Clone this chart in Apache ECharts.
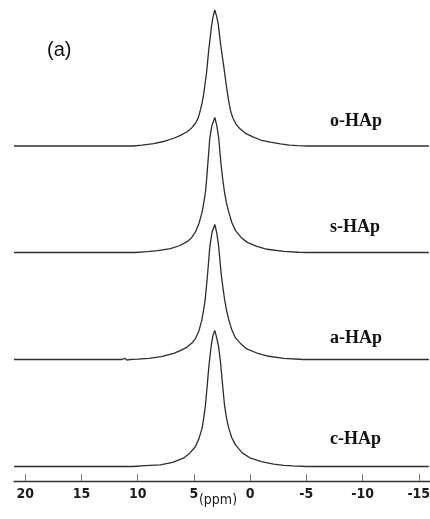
<!DOCTYPE html>
<html>
<head>
<meta charset="utf-8">
<script src="https://cdn.jsdelivr.net/npm/echarts@6/dist/echarts.min.js"></script>
<style>
html,body{margin:0;padding:0;background:#fff;}
#chart{width:430px;height:519px;}
</style>
</head>
<body>
<div id="chart"></div>
<script>
// Sample names (top to bottom)
var sampleNames = ['o-HAp', 's-HAp', 'a-HAp', 'c-HAp'];
var panelLabel = '(a)';
var axisName = '(ppm)';
var tickValues = [20, 15, 10, 5, 0, -5, -10, -15];

// Spectra: [chemical shift (ppm), relative intensity (peak = 100)]
var oHAp = [[21,0],[10.4,0],[9.6,0.6],[8.58,1.8],[7.6,3.5],[6.79,5.7],[6.2,7.8],[5.6,10.5],[5.2,13.3],[4.86,16.7],[4.62,20.5],[4.42,26.5],[4.26,32],[4.12,38.7],[4.0,46],[3.88,53.4],[3.78,62],[3.68,70.6],[3.56,79],[3.44,87.7],[3.3,95],[3.14,100],[3.0,96],[2.84,90.2],[2.74,83],[2.64,75.7],[2.49,67],[2.34,58.3],[2.22,51],[2.10,43.6],[1.93,34.5],[1.76,26.5],[1.55,21],[1.30,16.7],[0.9,12.6],[0.41,9.3],[-0.3,6.5],[-0.93,4.4],[-1.8,2.8],[-2.70,1.5],[-3.5,0.7],[-4.2,0.3],[-5.1,0],[-15.9,0]];
var sHAp = [[21,0],[10.2,0],[9.16,0.6],[8.2,1.4],[7.09,2.8],[6.3,5.0],[5.60,8.0],[5.2,11.0],[4.86,15.2],[4.55,21.5],[4.27,29.9],[4.12,37],[3.97,44.8],[3.87,54],[3.77,64.7],[3.68,74],[3.59,84.6],[3.4,94],[3.14,100],[2.96,94],[2.79,84.6],[2.69,75],[2.58,64.7],[2.43,54],[2.28,44.8],[2.10,36.5],[1.90,29.9],[1.62,22],[1.30,16.2],[0.8,11.2],[0.26,7.5],[-0.6,4.6],[-1.52,2.4],[-3.0,0.8],[-4.3,0.2],[-5.0,0],[-15.9,0]];
var aHAp = [[21,0],[11.4,0],[11.15,0.9],[10.95,-0.4],[10.7,0],[10.0,0.3],[9.0,0.9],[7.9,2.2],[6.8,4.6],[6.2,6.6],[5.6,9.2],[5.2,12.0],[4.86,15.5],[4.56,21.0],[4.3,29.0],[4.15,36.0],[4.0,44.0],[3.89,53.5],[3.78,63.5],[3.68,73.5],[3.58,84.0],[3.38,94.5],[3.14,100],[2.97,94.0],[2.80,84.0],[2.69,74.0],[2.58,64.0],[2.43,54.0],[2.28,45.0],[2.10,36.5],[1.90,29.5],[1.62,21.8],[1.30,16.0],[0.8,11.4],[0.30,7.8],[-0.6,4.8],[-1.5,2.6],[-3.0,0.9],[-4.4,0.2],[-4.7,0],[-15.9,0]];
var cHAp = [[21,0],[10.4,0],[9.3,0.6],[7.98,1.2],[6.9,3.0],[5.93,6.1],[5.4,9.5],[4.86,14.7],[4.55,20.5],[4.27,28.2],[4.12,36.0],[3.97,45.4],[3.82,59.0],[3.68,72.5],[3.56,81.5],[3.44,90.0],[3.3,96.5],[3.14,100],[2.98,95.0],[2.80,88.0],[2.64,77.4],[2.46,61.0],[2.28,45.4],[2.10,35.6],[1.90,28.2],[1.62,21.0],[1.30,15.9],[0.7,10.0],[-0.04,6.1],[-1.0,3.6],[-2.10,1.7],[-3.0,0.9],[-3.8,0.4],[-5.0,0],[-15.9,0]];

var spectra = [oHAp, sHAp, aHAp, cHAp];

// layout (pixels): top of peak and baseline of each stacked trace
var traceTop = [10, 117.5, 224.5, 330.5];
var traceBase = [146, 252.5, 359.5, 466.5];
var labelY = [123, 229, 340, 441];
var lineColor = '#2e2e2e';

var grids = [], xAxes = [], yAxes = [], series = [], graphics = [];

for (var i = 0; i < spectra.length; i++) {
  grids.push({left: 14, width: 416, top: traceTop[i], height: traceBase[i] - traceTop[i], containLabel: false, outerBoundsMode: 'none'});
  var isBottom = (i === spectra.length - 1);
  xAxes.push({
    type: 'value', gridIndex: i, min: -16, max: 21, inverse: true,
    show: isBottom,
    offset: isBottom ? 14.5 : 0,
    position: 'bottom',
    splitLine: {show: false},
    axisLine: {show: true, onZero: false, lineStyle: {color: '#333', width: 1.3}},
    axisTick: {show: true, inside: true, length: 7, customValues: tickValues, lineStyle: {color: '#777', width: 1}},
    axisLabel: {show: true, customValues: tickValues, margin: 6, color: '#1a1a1a', fontSize: 14, fontFamily: 'DejaVu Sans Condensed, DejaVu Sans', fontWeight: 'bold', hideOverlap: false},
    name: isBottom ? axisName : '',
    nameLocation: 'middle', nameGap: 12, nameMoveOverlap: false,
    nameTextStyle: {color: '#1a1a1a', fontSize: 14, fontFamily: 'DejaVu Sans Condensed, DejaVu Sans', padding: [0, 8, 0, 0]}
  });
  yAxes.push({type: 'value', gridIndex: i, min: 0, max: 100, show: false, splitLine: {show: false}});
  series.push({
    type: 'line', name: sampleNames[i], xAxisIndex: i, yAxisIndex: i,
    data: spectra[i], showSymbol: false, symbol: 'none',
    smooth: false, clip: false,
    lineStyle: {color: lineColor, width: 1.3}
  });
  graphics.push({
    type: 'text', left: 330, top: labelY[i] - 11,
    style: {text: sampleNames[i], fill: '#111', font: 'bold 18px "Liberation Serif", "Times New Roman", serif'}
  });
}
graphics.push({
  type: 'text', left: 47, top: 40,
  style: {text: panelLabel, fill: '#111', font: '20px "Liberation Sans", Arial, sans-serif'}
});

var chart = echarts.init(document.getElementById('chart'), null, {renderer: 'canvas'});
chart.setOption({
  animation: false,
  backgroundColor: '#ffffff',
  grid: grids,
  xAxis: xAxes,
  yAxis: yAxes,
  series: series,
  graphic: graphics
});
</script>
</body>
</html>
